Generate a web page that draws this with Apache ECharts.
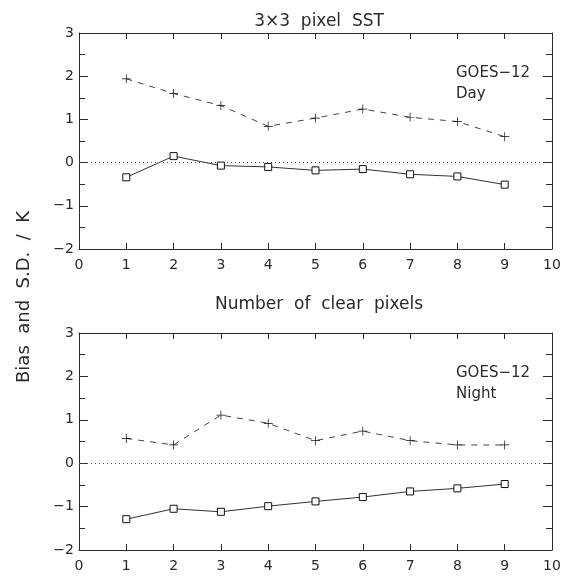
<!DOCTYPE html>
<html><head><meta charset="utf-8">
<script src="https://cdn.jsdelivr.net/npm/echarts@6/dist/echarts.min.js"></script>
<style>html,body{margin:0;padding:0;background:#fff}#c{width:570px;height:578px}</style>
</head><body><div id="c"></div>
<script>
const pixels = [1, 2, 3, 4, 5, 6, 7, 8, 9];
const daySD   = [1.94, 1.60, 1.32, 0.84, 1.03, 1.24, 1.05, 0.95, 0.60];
const dayBias = [-0.34, 0.15, -0.07, -0.10, -0.18, -0.15, -0.27, -0.32, -0.51];
const nightSD   = [0.57, 0.42, 1.11, 0.92, 0.52, 0.74, 0.52, 0.42, 0.42];
const nightBias = [-1.29, -1.05, -1.12, -0.99, -0.88, -0.78, -0.65, -0.58, -0.48];
const xTicks = [0, 1, 2, 3, 4, 5, 6, 7, 8, 9, 10];
const yTicks = [-2, -1, 0, 1, 2, 3];

const FONT = 'DejaVu Sans';
const INK = '#2a2a2a';
const plusPath = 'path://M4.6,0H5.4V4.6H10V5.4H5.4V10H4.6V5.4H0V4.6H4.6Z';
const zip = (xs, ys) => xs.map((x, i) => [x, ys[i]]);
const fmtY = v => (v < 0 ? '\u2212' + Math.abs(v) : String(v));

const chart = echarts.init(document.getElementById('c'), null, {renderer: 'canvas'});

function xAxes(gi) {
  const base = {
    type: 'value', gridIndex: gi, min: xTicks[0], max: xTicks[xTicks.length - 1], interval: 1,
    axisLine: {show: true, onZero: false, lineStyle: {color: INK, width: 1}},
    axisTick: {show: true, inside: true, length: 6, lineStyle: {color: INK}},
    splitLine: {show: false}
  };
  return [
    Object.assign({}, base, {position: 'bottom',
      axisLabel: {show: true, margin: 9, fontFamily: FONT, fontSize: 14, color: INK}}),
    Object.assign({}, base, {position: 'top', axisLabel: {show: false}})
  ];
}
function yAxes(gi) {
  const base = {
    type: 'value', gridIndex: gi, min: yTicks[0], max: yTicks[yTicks.length - 1], interval: 1,
    axisLine: {show: true, onZero: false, lineStyle: {color: INK, width: 1}},
    axisTick: {show: true, inside: true, length: 9, lineStyle: {color: INK}},
    minorTick: {show: true, splitNumber: 2, length: 6, lineStyle: {color: INK}},
    splitLine: {show: false}
  };
  return [
    Object.assign({}, base, {position: 'left',
      axisLabel: {show: true, margin: 5, fontFamily: FONT, fontSize: 14, color: INK, formatter: fmtY}}),
    Object.assign({}, base, {position: 'right', axisLabel: {show: false}})
  ];
}

function panelSeries(gi, sd, bias) {
  return [
    {
      type: 'line', xAxisIndex: gi * 2, yAxisIndex: gi * 2, data: zip(pixels, sd),
      symbol: plusPath, symbolSize: 9, showAllSymbol: true,
      lineStyle: {color: '#444', width: 1, type: [6, 6]},
      itemStyle: {color: '#111'}, emphasis: {disabled: true}, animation: false, z: 3
    },
    {
      type: 'line', xAxisIndex: gi * 2, yAxisIndex: gi * 2, data: zip(pixels, bias),
      symbol: 'rect', symbolSize: 7, showAllSymbol: true,
      lineStyle: {color: '#333', width: 1},
      itemStyle: {color: '#fff', borderColor: '#111', borderWidth: 1},
      emphasis: {disabled: true}, animation: false, z: 4,
      markLine: {
        silent: true, symbol: 'none', animation: false, label: {show: false},
        lineStyle: {color: '#555', width: 1, type: [1, 3]},
        data: [{yAxis: 0}]
      }
    }
  ];
}

const option = {
  backgroundColor: '#fff',
  animation: false,
  grid: [
    {left: 79, top: 33, right: 18, height: 216},
    {left: 79, top: 333, right: 18, height: 217}
  ],
  xAxis: xAxes(0).concat(xAxes(1)),
  yAxis: yAxes(0).concat(yAxes(1)),
  series: panelSeries(0, daySD, dayBias).concat(panelSeries(1, nightSD, nightBias)),
  title: [
    {text: '3\u00d73  pixel  SST', left: 314, top: 8, textAlign: 'center',
     textStyle: {fontFamily: FONT, fontSize: 17, fontWeight: 'normal', color: INK}},
    {text: 'Number  of  clear  pixels', left: 314, top: 291, textAlign: 'center',
     textStyle: {fontFamily: FONT, fontSize: 17, fontWeight: 'normal', color: INK}}
  ],
  graphic: [
    {type: 'text', left: 456, top: 63,
     style: {text: 'GOES\u221212\nDay', font: '15px "DejaVu Sans"', fill: INK, lineHeight: 21}},
    {type: 'text', left: 456, top: 363,
     style: {text: 'GOES\u221212\nNight', font: '15px "DejaVu Sans"', fill: INK, lineHeight: 21}},
    {type: 'text', x: 24, y: 297, rotation: Math.PI / 2,
     style: {text: 'Bias  and  S.D.  /  K', font: '18px "DejaVu Sans"', fill: INK,
             align: 'center', verticalAlign: 'middle'}}
  ]
};
chart.setOption(option);
</script>
</body></html>
